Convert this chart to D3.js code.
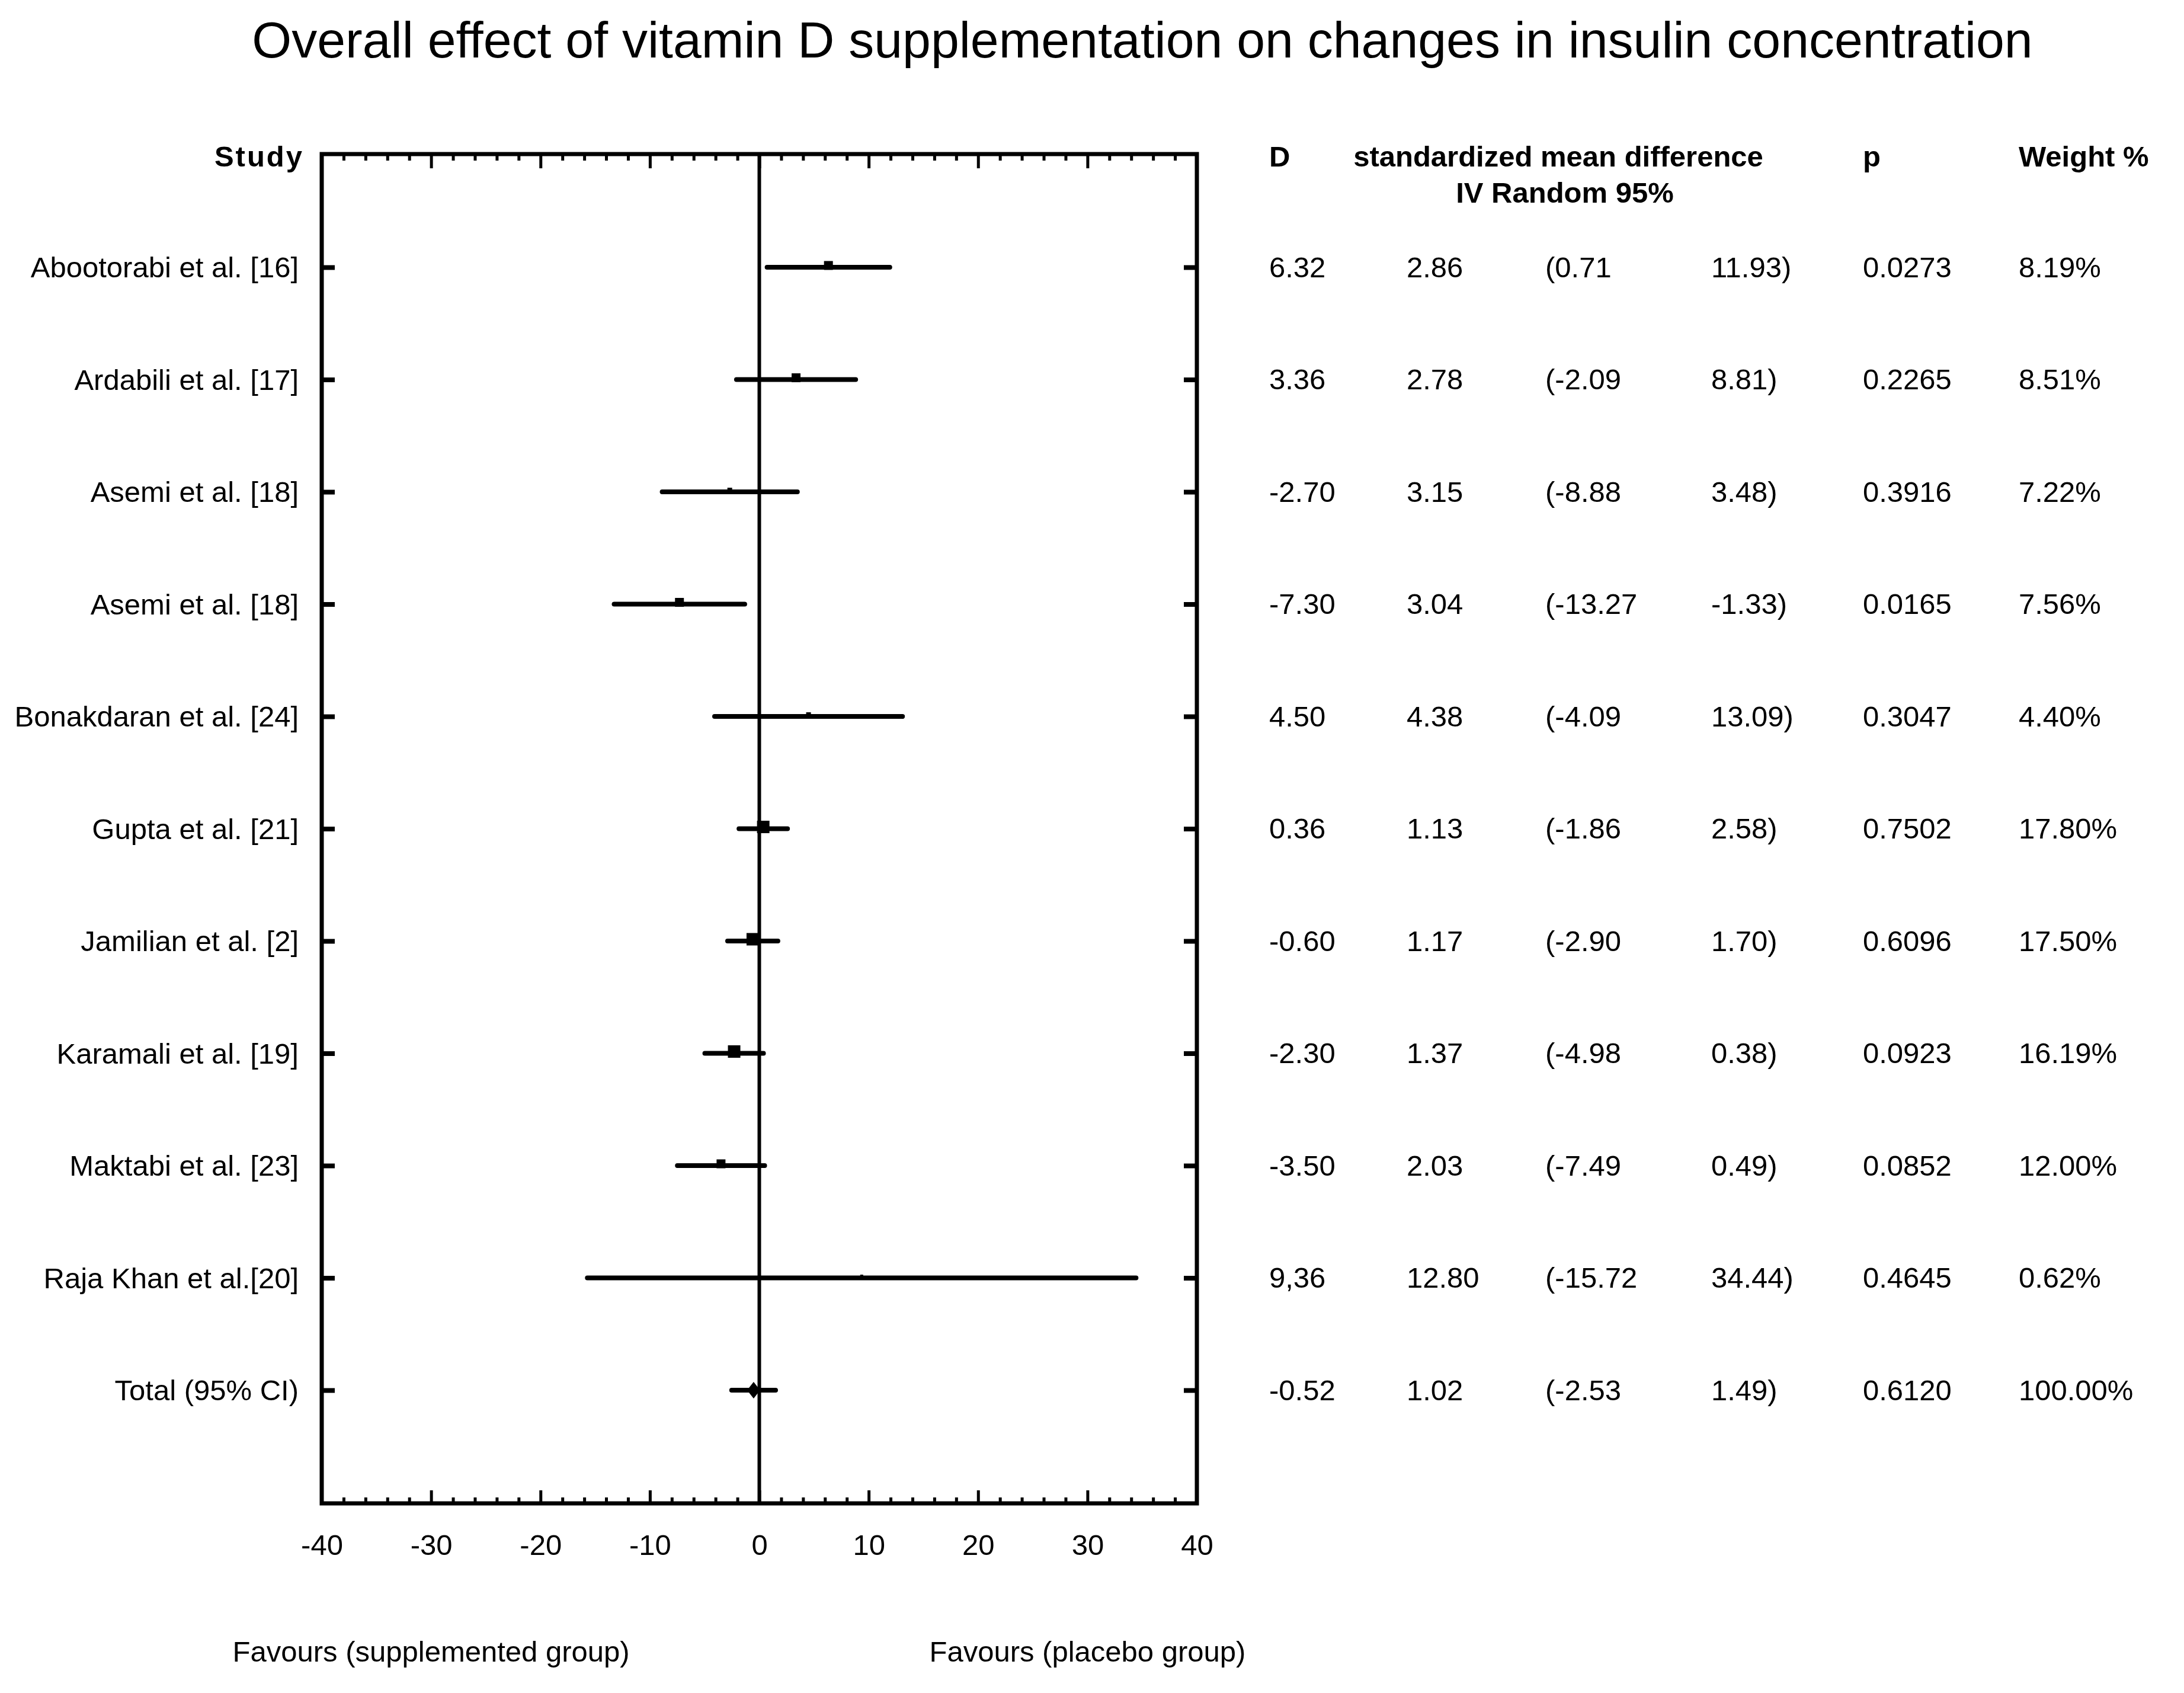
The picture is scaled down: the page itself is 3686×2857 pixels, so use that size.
<!DOCTYPE html>
<html>
<head>
<meta charset="utf-8">
<script src="https://cdn.jsdelivr.net/npm/d3@7"></script>
<style>
  html, body { margin: 0; padding: 0; background: #fff; }
  svg { display: block; }
  text { font-family: "Liberation Sans", Arial, Helvetica, sans-serif; fill: #000; }
</style>
</head>
<body>
<svg id="chart" width="3686" height="2857"></svg>
<script>
// ---------------- data ----------------
const studies = [
  "Abootorabi et al. [16]", "Ardabili et al. [17]", "Asemi et al. [18]", "Asemi et al. [18]",
  "Bonakdaran et al. [24]", "Gupta et al. [21]", "Jamilian et al. [2]", "Karamali et al. [19]",
  "Maktabi et al. [23]", "Raja Khan et al.[20]", "Total (95% CI)"
];
const effects = [6.32, 3.36, -2.70, -7.30, 4.50, 0.36, -0.60, -2.30, -3.50, 9.36, -0.52];
const effectLabels = ["6.32", "3.36", "-2.70", "-7.30", "4.50", "0.36", "-0.60", "-2.30", "-3.50", "9,36", "-0.52"];
const seValues = [2.86, 2.78, 3.15, 3.04, 4.38, 1.13, 1.17, 1.37, 2.03, 12.80, 1.02];
const lowerCI = [0.71, -2.09, -8.88, -13.27, -4.09, -1.86, -2.90, -4.98, -7.49, -15.72, -2.53];
const upperCI = [11.93, 8.81, 3.48, -1.33, 13.09, 2.58, 1.70, 0.38, 0.49, 34.44, 1.49];
const pValues = [0.0273, 0.2265, 0.3916, 0.0165, 0.3047, 0.7502, 0.6096, 0.0923, 0.0852, 0.4645, 0.6120];
const weights = [8.19, 8.51, 7.22, 7.56, 4.40, 17.80, 17.50, 16.19, 12.00, 0.62, 100.00];
const majorTicks = [-40, -30, -20, -10, 0, 10, 20, 30, 40];
const minorTicks = d3.range(-38, 40, 2).filter(v => v % 10 !== 0);
const titleText = "Overall effect of vitamin D supplementation on changes in insulin concentration";
const headerLabels = ["Study", "D", "standardized mean difference", "IV Random 95%", "p", "Weight %"];
const favourLabels = ["Favours (supplemented group)", "Favours (placebo group)"];
const favourAt = [-30, 30];

(function draw() {
  const loc = d3.formatLocale({ decimal: ".", thousands: ",", grouping: [3], currency: ["", ""], minus: "-" });
  const svg = d3.select("#chart");
  svg.append("rect").attr("width", 3686).attr("height", 2857).attr("fill", "#fff");

  const pL = 543, pR = 2020, pT = 260, pB = 2537;
  const x = d3.scaleLinear().domain([-40, 40]).range([pL, pR]);
  const rows = d3.range(studies.length);
  const y = d3.scaleLinear().domain([0, studies.length - 1]).range([451, 2346]);
  const markSize = d3.scaleThreshold().domain([1, 7.4, 15]).range([5, 8, 15, 21]);
  const FS = 49;

  // title
  svg.append("text")
    .attr("x", 1928).attr("y", 97)
    .attr("text-anchor", "middle")
    .style("font-size", "86px")
    .text(titleText);

  // bottom axis with labels
  const gBottom = svg.append("g").attr("transform", `translate(0,${pB})`);
  gBottom.call(d3.axisBottom(x).tickValues(majorTicks).tickSize(-22).tickPadding(52).tickFormat(loc.format("d")));
  const gBottomMinor = svg.append("g").attr("transform", `translate(0,${pB})`);
  gBottomMinor.call(d3.axisBottom(x).tickValues(minorTicks).tickSize(-10).tickFormat(""));
  // top axis
  const gTop = svg.append("g").attr("transform", `translate(0,${pT})`);
  gTop.call(d3.axisTop(x).tickValues(majorTicks).tickSize(-24).tickFormat(""));
  const gTopMinor = svg.append("g").attr("transform", `translate(0,${pT})`);
  gTopMinor.call(d3.axisTop(x).tickValues(minorTicks).tickSize(-11).tickFormat(""));

  [gBottom, gBottomMinor, gTop, gTopMinor].forEach(g => {
    g.select(".domain").remove();
    g.selectAll(".tick line").attr("stroke", "#000").attr("stroke-width", 5);
  });
  gBottom.selectAll(".tick text")
    .style("font-size", FS + "px")
    .attr("fill", "#000");

  // left axis: study labels
  const gLeft = svg.append("g").attr("transform", `translate(${pL},0)`);
  gLeft.call(d3.axisLeft(y).tickValues(rows).tickSize(-22).tickPadding(39).tickFormat(i => studies[i]));
  gLeft.select(".domain").remove();
  gLeft.selectAll(".tick line").attr("stroke", "#000").attr("stroke-width", 8);
  gLeft.selectAll(".tick text").style("font-size", FS + "px").attr("fill", "#000").attr("dy", "0.34em");

  // right axis: row ticks
  const gRight = svg.append("g").attr("transform", `translate(${pR},0)`);
  gRight.call(d3.axisRight(y).tickValues(rows).tickSize(-22).tickFormat(""));
  gRight.select(".domain").remove();
  gRight.selectAll(".tick line").attr("stroke", "#000").attr("stroke-width", 8);

  // frame
  svg.append("rect")
    .attr("x", pL).attr("y", pT)
    .attr("width", pR - pL).attr("height", pB - pT)
    .attr("fill", "none").attr("stroke", "#000").attr("stroke-width", 7);

  // zero line
  svg.append("line")
    .attr("x1", x(0)).attr("x2", x(0))
    .attr("y1", pT).attr("y2", pB)
    .attr("stroke", "#000").attr("stroke-width", 6);

  // confidence intervals
  svg.append("g").selectAll("line").data(rows).join("line")
    .attr("x1", i => x(lowerCI[i])).attr("x2", i => x(upperCI[i]))
    .attr("y1", i => y(i)).attr("y2", i => y(i))
    .attr("stroke", "#000").attr("stroke-width", 8).attr("stroke-linecap", "round");

  // study squares
  const studyRows = rows.slice(0, rows.length - 1);
  svg.append("g").selectAll("rect").data(studyRows).join("rect")
    .attr("x", i => x(effects[i]) - markSize(weights[i]) / 2)
    .attr("y", i => y(i) - 3 - markSize(weights[i]) / 2)
    .attr("width", i => markSize(weights[i]))
    .attr("height", i => markSize(weights[i]))
    .attr("fill", "#000");

  // total diamond
  const ti = rows.length - 1;
  svg.append("path")
    .attr("d", () => {
      const cx = x(effects[ti]), cy = y(ti);
      return `M${cx},${cy - 14}L${cx + 11},${cy}L${cx},${cy + 14}L${cx - 11},${cy}Z`;
    })
    .attr("fill", "#000");

  // headers
  const hdr = svg.append("g").style("font-size", FS + "px").style("font-weight", "bold");
  hdr.append("text").attr("x", 513).attr("y", 281).attr("text-anchor", "end").style("letter-spacing", "3px").text(headerLabels[0]);
  hdr.append("text").attr("x", 2142).attr("y", 281).text(headerLabels[1]);
  hdr.append("text").attr("x", 2630).attr("y", 281).attr("text-anchor", "middle").text(headerLabels[2]);
  hdr.append("text").attr("x", 2641).attr("y", 342).attr("text-anchor", "middle").text(headerLabels[3]);
  hdr.append("text").attr("x", 3144).attr("y", 281).text(headerLabels[4]);
  hdr.append("text").attr("x", 3407).attr("y", 281).text(headerLabels[5]);

  // table
  const f2 = loc.format(".2f"), f4 = loc.format(".4f");
  const cols = [
    { x: 2142, fn: i => effectLabels[i] },
    { x: 2374, fn: i => f2(seValues[i]) },
    { x: 2608, fn: i => "(" + f2(lowerCI[i]) },
    { x: 2888, fn: i => f2(upperCI[i]) + ")" },
    { x: 3144, fn: i => f4(pValues[i]) },
    { x: 3407, fn: i => f2(weights[i]) + "%" }
  ];
  const tbl = svg.append("g").style("font-size", FS + "px");
  cols.forEach(c => {
    tbl.append("g").selectAll("text").data(rows).join("text")
      .attr("x", c.x).attr("y", i => y(i)).attr("dy", "0.34em")
      .text(c.fn);
  });

  // favours labels
  svg.append("g").style("font-size", FS + "px").selectAll("text").data(favourLabels).join("text")
    .attr("x", (d, i) => x(favourAt[i])).attr("y", 2804)
    .attr("text-anchor", "middle")
    .text(d => d);
})();
</script>
</body>
</html>
